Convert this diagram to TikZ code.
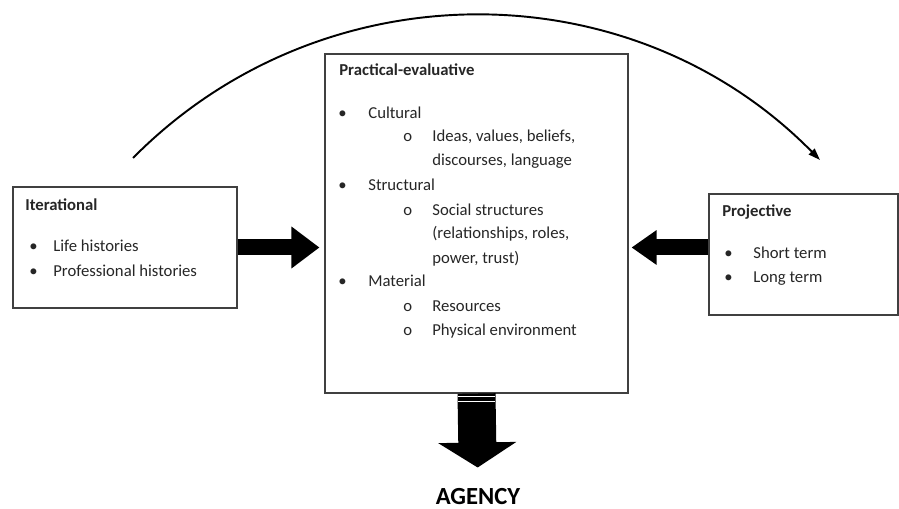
\documentclass[tikz,border=0pt]{standalone}
\usepackage{fontspec}
\setmainfont{Carlito}
\usetikzlibrary{arrows.meta,fit}

\begin{document}
\begin{tikzpicture}[x=0.02cm,y=-0.02cm,
    font=\fontsize{9.5}{11}\selectfont,
    box/.style={draw=black!75, line width=.6pt, inner sep=0pt},
    txt/.style={anchor=base west, inner sep=0pt, text=black!85},
    head/.style={txt, font=\fontsize{9.5}{11}\selectfont\bfseries},
    bigarrow/.style={line width=.32cm, draw=black},
]

    \useasboundingbox (0,0) rectangle (899,509);

    % the three boxes
    \node [box, fit={(13,187) (237,308)}] (iter) {};
    \node [box, fit={(325,54) (628,393)}] (mid) {};
    \node [box, fit={(709,194) (898,315)}] (proj) {};

    % Iterational
    \node [head] (iterT) at (25,211) {Iterational};
    \node [txt] (iterB1) at (29,252) {\textbullet};
    \node [txt] (iterL1) at (53,252) {Life histories};
    \node [txt] (iterB2) at (29,277) {\textbullet};
    \node [txt] (iterL2) at (53,277) {Professional histories};

    % Practical-evaluative
    \node [head] (midT) at (339,76) {Practical-evaluative};
    \node [txt] (midB1) at (338,119) {\textbullet};
    \node [txt] (midL1) at (368,119) {Cultural};
    \node [txt] (midO1) at (403,142) {o};
    \node [txt] (midS1) at (432,142) {Ideas, values, beliefs,};
    \node [txt] (midS1b) at (432,166) {discourses, language};
    \node [txt] (midB2) at (338,191) {\textbullet};
    \node [txt] (midL2) at (368,191) {Structural};
    \node [txt] (midO2) at (403,216) {o};
    \node [txt] (midS2) at (432,216) {Social structures};
    \node [txt] (midS2b) at (432,239) {(relationships, roles,};
    \node [txt] (midS2c) at (432,264) {power, trust)};
    \node [txt] (midB3) at (338,287) {\textbullet};
    \node [txt] (midL3) at (368,287) {Material};
    \node [txt] (midO3) at (403,312) {o};
    \node [txt] (midS3) at (432,312) {Resources};
    \node [txt] (midO4) at (403,336) {o};
    \node [txt] (midS4) at (432,336) {Physical environment};

    % Projective
    \node [head] (projT) at (722,217) {Projective};
    \node [txt] (projB1) at (724,259) {\textbullet};
    \node [txt] (projL1) at (753,259) {Short term};
    \node [txt] (projB2) at (724,283) {\textbullet};
    \node [txt] (projL2) at (753,283) {Long term};

    \node [font=\fontsize{14}{16}\selectfont\bfseries, inner sep=0pt] (agency) at (478,497) {AGENCY};

    % block arrows
    \draw [bigarrow, -{Triangle[length=.56cm, width=.8cm]}, shorten >=.1cm]
        (iter.east) -- (mid.west |- iter.east);
    \draw [bigarrow, -{Triangle[length=.5cm, width=.66cm]}, shorten >=.06cm]
        (proj.west |- iter.east) -- (mid.east |- iter.east);
    \draw [line width=.76cm, -{Triangle[length=.5cm, width=1.54cm]}, shorten >=.42cm]
        (mid.south) -- (agency.north);
    \draw [white, line width=.5pt] (458,396.5) -- (495,396.5);
    \draw [white, line width=.5pt] (458,401.5) -- (495,401.5);

    % arc from past to future
    \coordinate (arcS) at (133,158);
    \coordinate (arcE) at (820,160);
    \draw [line width=1.1pt, -{Triangle[length=.24cm, width=.16cm]}]
        (arcS) .. controls (322,-33) and (631,-32) .. (arcE);

\end{tikzpicture}
\end{document}
